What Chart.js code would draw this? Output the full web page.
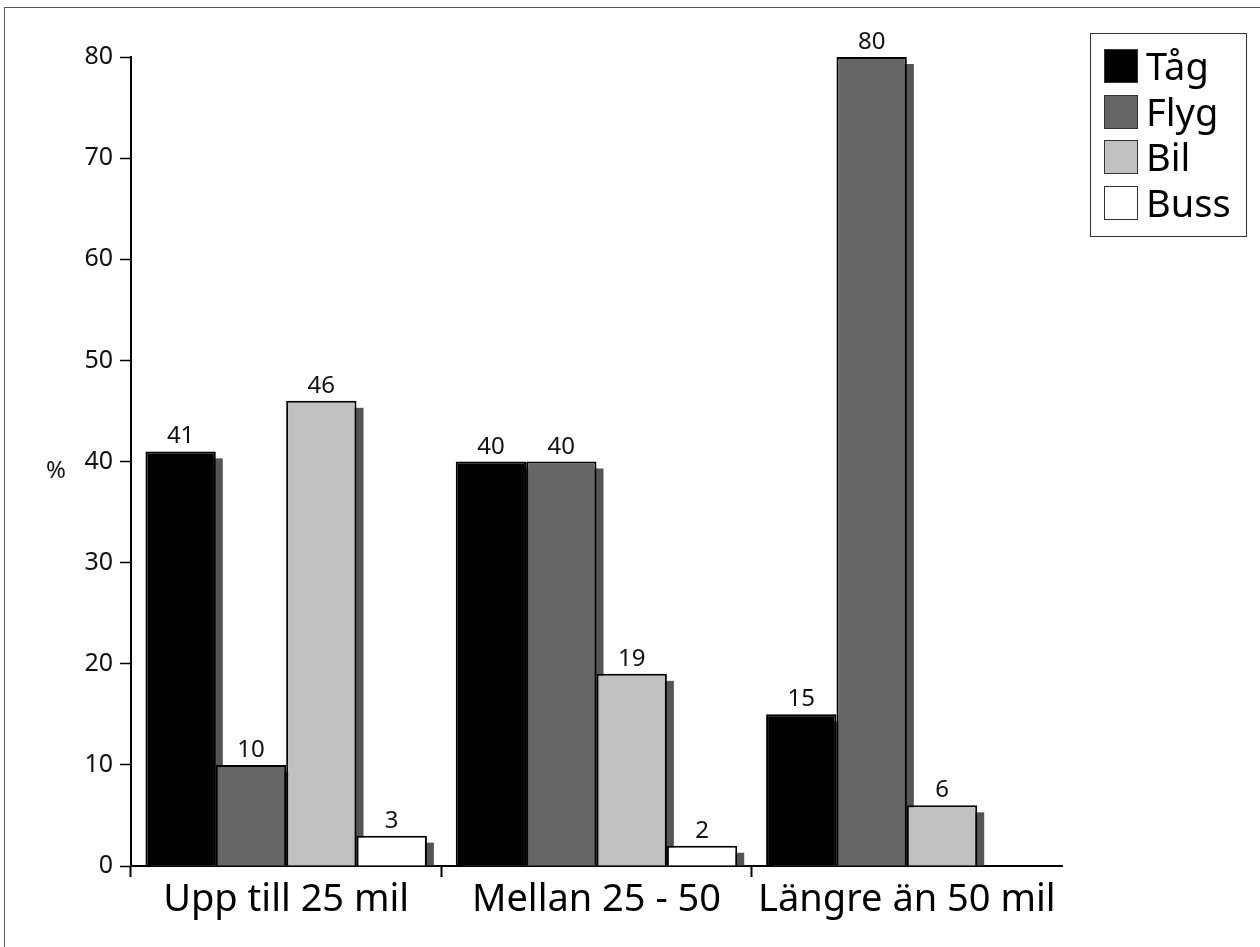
<!DOCTYPE html>
<html>
<head>
<meta charset="utf-8">
<script src="https://cdn.jsdelivr.net/npm/chart.js@4"></script>
<style>
  body { margin: 0; background: #fff; font-family: "Noto Sans", sans-serif; }
  #wrap { position: relative; width: 1260px; height: 947px; }
  #frame { position: absolute; left: 4px; top: 7px; width: 1260px; height: 947px;
           border-left: 1px solid #555; border-top: 1px solid #555; }
  #pct { position: absolute; left: 46px; top: 452px; font-size: 24px; color: #111; }
  #legend { position: absolute; left: 1090px; top: 33px; width: 155px; height: 202px;
            border: 1px solid #333; }
  .item { position: absolute; left: 13px; height: 34px; }
  .sw { position: absolute; left: 0; top: 0; width: 32px; height: 32px; border: 1px solid #333; }
  .lbl { position: absolute; left: 42px; top: -10px; font-size: 38px; color: #000; white-space: nowrap; }
</style>
</head>
<body>
<div id="wrap">
  <canvas id="c" width="1260" height="947"></canvas>
  <div id="frame"></div>
  <div id="pct">%</div>
  <div id="legend"></div>
</div>
<script>
// data
const categories = ['Upp till 25 mil', 'Mellan 25 - 50', 'Längre än 50 mil'];
const seriesNames = ['Tåg', 'Flyg', 'Bil', 'Buss'];
const tag = [41, 40, 15];
const flyg = [10, 40, 80];
const bil = [46, 19, 6];
const buss = [3, 2, 0];
const yMin = 0, yMax = 80, yStep = 10;

const colors = ['#000000', '#666666', '#c0c0c0', '#ffffff'];
const values = [tag, flyg, bil, buss];
const FONT = '"Noto Sans", sans-serif';

// drop shadow behind every bar
const shadowPlugin = {
    id: 'barShadow',
    beforeDatasetsDraw(chart) {
        const ctx = chart.ctx;
        ctx.save();
        ctx.fillStyle = '#555555';
        chart.data.datasets.forEach((ds, i) => {
            chart.getDatasetMeta(i).data.forEach(bar => {
                const h = bar.base - bar.y - 7;
                if (h <= 0) return;
                ctx.fillRect(bar.x - bar.width / 2 + 7, bar.y + 7, bar.width, h);
            });
        });
        ctx.restore();
    }
};

// numbers above bars
const valuePlugin = {
    id: 'barValues',
    afterDatasetsDraw(chart) {
        const ctx = chart.ctx;
        ctx.save();
        ctx.font = '24px ' + FONT;
        ctx.fillStyle = '#111';
        ctx.textAlign = 'center';
        ctx.textBaseline = 'alphabetic';
        chart.data.datasets.forEach((ds, i) => {
            chart.getDatasetMeta(i).data.forEach((bar, j) => {
                const v = ds.data[j];
                if (!v) return;
                ctx.fillText(String(v), bar.x, bar.y - 8);
            });
        });
        ctx.restore();
    }
};

new Chart(document.getElementById('c'), {
    type: 'bar',
    data: {
        labels: categories,
        datasets: seriesNames.map((name, i) => ({
            label: name,
            data: values[i],
            backgroundColor: colors[i],
            borderColor: '#000',
            borderWidth: 2,
            categoryPercentage: 0.907,
            barPercentage: 1
        }))
    },
    options: {
        responsive: false,
        animation: false,
        devicePixelRatio: 1,
        layout: { padding: { top: 57, right: 198, left: 0, bottom: 0 } },
        plugins: { legend: { display: false }, tooltip: { enabled: false } },
        scales: {
            x: {
                afterFit(s) { s.height = 81; },
                grid: {
                    offset: true,
                    drawOnChartArea: false,
                    tickLength: 11,
                    tickWidth: 2,
                    tickColor: c => c.type === 'tick' ? '#000' : 'rgba(0,0,0,0)'
                },
                border: { display: true, color: '#000', width: 2 },
                ticks: { color: '#000', font: { family: FONT, size: 38 }, padding: 0, maxRotation: 0 }
            },
            y: {
                min: yMin,
                max: yMax,
                afterFit(s) { s.width = 131; },
                grid: { drawOnChartArea: false, tickLength: 11, tickWidth: 1.5, tickColor: '#000' },
                border: { display: true, color: '#000', width: 2 },
                ticks: { stepSize: yStep, color: '#111', font: { family: FONT, size: 25 }, padding: 7 }
            }
        }
    },
    plugins: [shadowPlugin, valuePlugin]
});

// legend box
const legend = document.getElementById('legend');
seriesNames.forEach((name, i) => {
    const item = document.createElement('div');
    item.className = 'item';
    item.style.top = (15 + i * 45.5) + 'px';
    item.innerHTML = '<div class="sw" style="background:' + colors[i] + '"></div><div class="lbl">' + name + '</div>';
    legend.appendChild(item);
});
</script>
</body>
</html>
